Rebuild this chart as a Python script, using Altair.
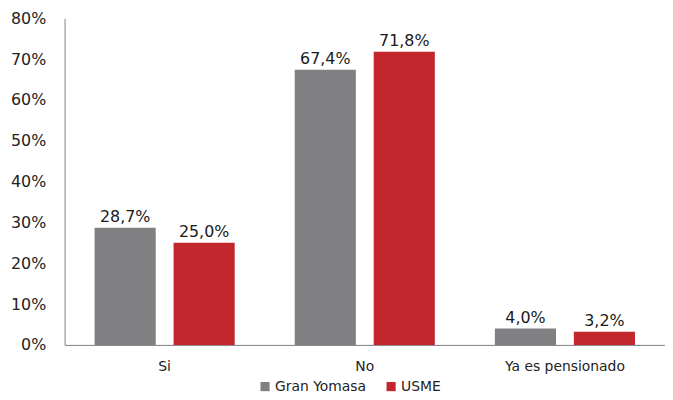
import altair as alt
import pandas as pd

categories = ["Si", "No", "Ya es pensionado"]
series = ["Gran Yomasa", "USME"]
gran_yomasa = [28.7, 67.4, 4.0]
usme = [25.0, 71.8, 3.2]
colors = ["#808083", "#c1272d"]
y_ticks = [0, 10, 20, 30, 40, 50, 60, 70, 80]

rows = []
for c, g, u in zip(categories, gran_yomasa, usme):
    for s, v in ((series[0], g), (series[1], u)):
        rows.append({"cat": c, "serie": s, "val": v,
                     "lab": f"{v:.1f}%".replace(".", ",")})
df = pd.DataFrame(rows)

FONT = "DejaVu Sans"

base = alt.Chart(df).encode(
    x=alt.X("cat:N", sort=categories, title=None,
            scale=alt.Scale(paddingInner=0.3, paddingOuter=0.15),
            axis=alt.Axis(labelAngle=0, labelFontSize=14, labelFont=FONT,
                          labelColor="#222222", ticks=False, labelPadding=15,
                          domainColor="#7f7f7f", domainWidth=1)),
    xOffset=alt.XOffset("serie:N", sort=series,
                        scale=alt.Scale(paddingInner=0.226, paddingOuter=0)),
    y=alt.Y("val:Q", title=None,
            scale=alt.Scale(domain=[0, 80], nice=False),
            axis=alt.Axis(values=y_ticks, labelExpr="datum.value + '%'",
                          labelFontSize=16, labelFont=FONT, labelColor="#222222",
                          ticks=False, grid=False, labelPadding=19,
                          domainColor="#7f7f7f", domainWidth=1)),
)

bars = base.mark_bar().encode(
    color=alt.Color("serie:N", sort=series,
                    scale=alt.Scale(domain=series, range=colors),
                    legend=alt.Legend(title=None, orient="none", direction="horizontal",
                                      legendX=195, legendY=364,
                                      symbolType="square", symbolSize=85,
                                      symbolStrokeWidth=0, labelFontSize=14,
                                      labelFont=FONT, labelColor="#222222",
                                      labelOffset=3, columnPadding=18,
                                      padding=0))
)

text = base.mark_text(baseline="alphabetic", dy=-6, fontSize=16, font=FONT,
                      color="#1a1a1a").encode(text="lab:N")

chart = (bars + text).properties(
    width=605, height=329,
    padding={"left": 2, "top": 1, "right": 0, "bottom": 0},
    background="white",
).configure_view(stroke=None)

chart.save("out.html", embed_options={"renderer": "svg", "actions": False})
